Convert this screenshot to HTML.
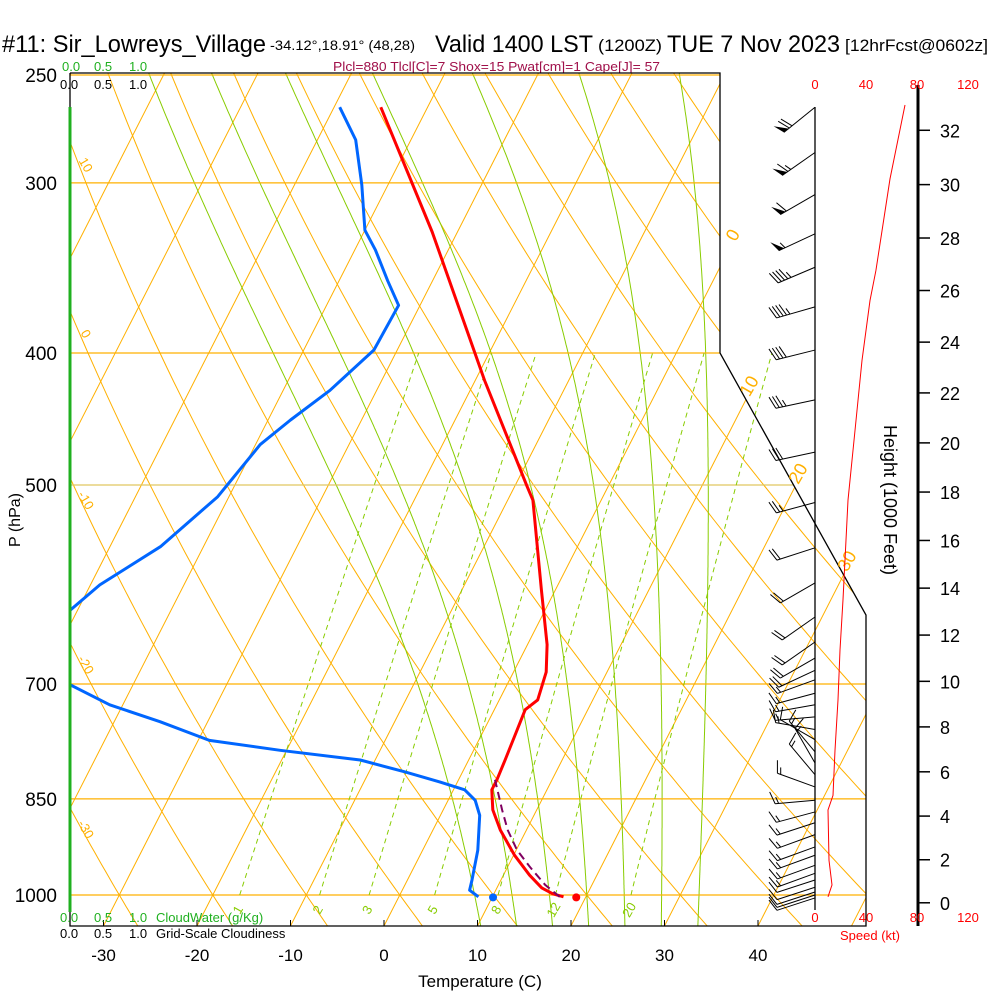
<!DOCTYPE html>
<html><head><meta charset="utf-8"><style>
html,body{margin:0;padding:0;background:#fff;}
svg{display:block;font-family:"Liberation Sans",Arial,sans-serif;}
</style></head><body>
<svg id="chart" width="1000" height="1000" viewBox="0 0 1000 1000" xmlns="http://www.w3.org/2000/svg">
<defs><clipPath id="plotClip"><path d="M70,73 L720,73 L720,353 L866,615 L866,926 L70,926 Z"/></clipPath>
<clipPath id="mixClip"><rect x="70" y="353" width="800" height="543"/></clipPath></defs>
<rect x="0" y="0" width="1000" height="1000" fill="#fff"/>
<g>
<text x="2" y="52" font-size="24" textLength="264" lengthAdjust="spacingAndGlyphs">#11: Sir_Lowreys_Village</text>
<text x="270" y="50" font-size="14" textLength="145" lengthAdjust="spacingAndGlyphs">-34.12°,18.91° (48,28)</text>
<text x="435" y="52" font-size="24" textLength="158" lengthAdjust="spacingAndGlyphs">Valid 1400 LST</text>
<text x="598" y="51" font-size="17" textLength="64" lengthAdjust="spacingAndGlyphs">(1200Z)</text>
<text x="667" y="52" font-size="24" textLength="173" lengthAdjust="spacingAndGlyphs">TUE 7 Nov 2023</text>
<text x="845" y="51" font-size="17" textLength="143" lengthAdjust="spacingAndGlyphs">[12hrFcst@0602z]</text>
</g>
<text x="333" y="71" font-size="13" fill="#a0104a" textLength="327" lengthAdjust="spacingAndGlyphs">Plcl=880 Tlcl[C]=7 Shox=15 Pwat[cm]=1 Cape[J]= 57</text>
<g id="grid" clip-path="url(#plotClip)"></g>
<g id="mix" clip-path="url(#mixClip)"></g>
<g id="profiles" clip-path="url(#plotClip)"></g>
<g id="frame" fill="none" stroke="#000" stroke-width="1.3">
<path d="M70,73 L720,73 L720,353 L866,615 L866,926 L70,926 L70,73"/>
<line x1="815" y1="107" x2="815" y2="910"/>
<line x1="918" y1="85" x2="918" y2="926" stroke-width="3"/>
</g>
<line x1="70" y1="107" x2="70" y2="912" stroke="#20b020" stroke-width="3"/>
<g id="labels"></g>
<g id="winds"></g>
<text transform="translate(20,520) rotate(-90)" text-anchor="middle" font-size="16">P (hPa)</text>
<text x="480" y="987" text-anchor="middle" font-size="17">Temperature (C)</text>
<text transform="translate(884,500) rotate(90)" text-anchor="middle" font-size="18">Height (1000 Feet)</text>
<text x="870" y="940" text-anchor="middle" font-size="13" fill="#f00">Speed (kt)</text>
<g font-size="13">
<text x="62" y="71" fill="#20b020">0.0</text><text x="94" y="71" fill="#20b020">0.5</text><text x="129" y="71" fill="#20b020">1.0</text>
<text x="60" y="89">0.0</text><text x="94" y="89">0.5</text><text x="129" y="89">1.0</text>
<text x="60" y="922" fill="#20b020">0.0</text><text x="94" y="922" fill="#20b020">0.5</text><text x="129" y="922" fill="#20b020">1.0</text><text x="156" y="922" fill="#20b020">CloudWater (g/Kg)</text>
<text x="60" y="938">0.0</text><text x="94" y="938">0.5</text><text x="129" y="938">1.0</text><text x="156" y="938">Grid-Scale Cloudiness</text>
</g>
<script>
// ---- data ----
const tempP=[264,326,419,501,513,597,655,686,719,731,763,796,823,837,866,896,935,967,988,998,1003];
const tempT=[-45.0,-32.7,-19.0,-8.7,-7.3,-1.5,2.1,3.5,4.1,3.3,3.6,3.9,4.1,4.1,5.3,7.2,10.1,12.8,14.8,16.3,17.6];
const dewP=[264,279,301,325,336,354,369,398,426,448,467,510,555,592,618,650,690,701,725,746,770,783,796,812,826,837,852,874,927,975,992,1003];
const dewT=[-49.4,-45.9,-42.8,-40.0,-37.8,-34.8,-32.3,-32.5,-35.0,-37.6,-39.5,-41.2,-44.6,-49.0,-50.8,-56,-56,-46.7,-41.4,-35.1,-28.8,-20.7,-11.6,-6.2,-1.9,1.2,2.9,4.2,5.9,6.9,7.2,8.5];
const parcelP=[1003,983,955,927,896,866,837,823];
const parcelT=[17.2,15.0,12.5,10.1,8.0,6.3,4.7,3.9];
const sfcT=19.0, sfcTd=10.1, sfcP=1004;
const windP=[264,285,306,327,346,370,398,433,473,515,556,590,625,652,670,684,695,711,725,740,756,769,785,800,816,833,852,869,885,903,922,935,951,964,975,987,995,1000,1005];
const windDir=[231,235,240,245,247,254,256,258,258,255,252,240,235,235,240,245,250,255,260,265,280,300,320,330,320,290,265,255,252,250,250,250,250,250,252,252,252,252,252];
const windSpd=[70,65,60,55,45,45,40,35,30,25,20,20,20,20,20,20,15,15,15,15,15,10,15,15,15,15,15,15,15,15,15,15,15,15,10,10,10,10,10];
const spdP=[1003,983,943,866,845,783,719,661,607,513,456,405,366,348,298,263];
const spdVal=[10.2,13.3,11,10.2,14.1,15.7,18,19.6,22,25.9,31.4,36.9,43.1,47.8,58.8,70.6];
const pressLabels=[250,300,400,500,700,850,1000];
const tempTicks=[-30,-20,-10,0,10,20,30,40];
const heightTicks=[0,2,4,6,8,10,12,14,16,18,20,22,24,26,28,30,32];
const speedTicks=[0,40,80,120];
const mixRatios=[1,2,3,5,8,12,20];
const moistStarts=[8,12,16,20,24,28,32];
const isoLabels=[0,10,20,30];
const thetaLabels=[10,0,-10,-20,-30];
// ---- axes ----
const NS="http://www.w3.org/2000/svg";
function yP(p){return 895+591.5*Math.log(p/1000);}
function xT(T,p){return 384+9.35*T+(926-yP(p))*0.51;}
function pY(y){return 1000*Math.exp((y-895)/591.5);}
function xS(s){return 815+s*51/40;}
function mk(tag,attrs,parent){const e=document.createElementNS(NS,tag);for(const k in attrs)e.setAttribute(k,attrs[k]);parent.appendChild(e);return e;}
function poly(pts){return pts.map((q,i)=>(i?'L':'M')+q[0].toFixed(1)+','+q[1].toFixed(1)).join(' ');}
const grid=document.getElementById('grid'),mix=document.getElementById('mix'),prof=document.getElementById('profiles'),lab=document.getElementById('labels'),winds=document.getElementById('winds');
const ORANGE='#ffb000',GREEN='#88cc00';
const pTop=240,pBot=1060;
for(let T=-120;T<=50;T+=10){
 const e=mk('path',{d:poly([[xT(T,pBot),yP(pBot)],[xT(T,pTop),yP(pTop)]]),stroke:ORANGE,'stroke-width':1,fill:'none'},grid);
 
 
}
for(let th=-40;th<=180;th+=10){
 const pts=[];for(let p=pBot;p>=pTop;p-=10){const T=(th+273.15)*Math.pow(p/1000,0.2857)-273.15;pts.push([xT(T,p),yP(p)]);}
 const e=mk('path',{d:poly(pts),stroke:ORANGE,'stroke-width':1,fill:'none'},grid);
 
 
}
function es(T){return 6.112*Math.exp(17.67*T/(T+243.5));}
function dTdp(T,p){const Tk=T+273.15,e=es(T),rs=0.622*e/(p-e),Lv=2.5e6,Rd=287,cp=1005;return (Rd*Tk+Lv*rs)/(p*(cp+Lv*Lv*rs*0.622/(Rd*Tk*Tk)));}
moistStarts.forEach(t0=>{
 const up=[];let T=t0;for(let p=1000;p>=pTop;p-=2){up.push([xT(T,p),yP(p)]);T-=dTdp(T,p)*2;}
 const dn=[];T=t0;for(let p=1000;p<=pBot;p+=2){dn.push([xT(T,p),yP(p)]);T+=dTdp(T,p)*2;}
 const e=mk('path',{d:poly(dn.reverse().concat(up)),stroke:GREEN,'stroke-width':1,fill:'none'},grid);
 
 
});
pressLabels.forEach(p=>{
 const e=mk('line',{x1:70,x2:870,y1:yP(p),y2:yP(p),stroke:p===500?'#e0c860':ORANGE,'stroke-width':1.3},grid);
 
 
 const t=mk('text',{x:57,y:yP(p)+7,'text-anchor':'end','font-size':19},lab);t.textContent=p;
 
 
});
function tdW(w,p){const e=w*p/(622+w),l=Math.log(e/6.112);return 243.5*l/(17.67-l);}
mixRatios.forEach(w=>{
 const pts=[];for(let p=1000;p>=400;p-=10)pts.push([xT(tdW(w,p),p),yP(p)]);
 const e=mk('path',{d:poly(pts),stroke:GREEN,'stroke-width':1,fill:'none','stroke-dasharray':'5,4'},mix);
 
 
 const x=xT(tdW(w,1000),1000);
 const t=mk('text',{x:0,y:0,'font-size':13,fill:GREEN,transform:`translate(${x+2},${912}) rotate(-60)`,'text-anchor':'middle'},lab);t.textContent=w;
 
 
});
isoLabels.forEach(T=>{
 let y=null;for(let yy=80;yy<926;yy+=0.5){const x=xT(T,pY(yy));const bx=yy<=353?720:720+(yy-353)*(146/262);if(x<=bx+18){y=yy;break;}}
 if(y===null)return;
 const x=xT(T,pY(y));
 const t=mk('text',{x:0,y:0,'font-size':18,fill:ORANGE,transform:`translate(${x},${y+6}) rotate(-60)`,'text-anchor':'middle'},lab);t.textContent=T;
 
 
});
thetaLabels.forEach(th=>{
 let y=null;for(let yy=80;yy<926;yy+=0.5){const p=pY(yy);const T=(th+273.15)*Math.pow(p/1000,0.2857)-273.15;if(xT(T,p)>=72){y=yy;break;}}
 const t=mk('text',{x:0,y:0,'font-size':13,fill:ORANGE,transform:`translate(82,${y+20}) rotate(60)`,'text-anchor':'middle'},lab);t.textContent=th;
 
 
});
tempTicks.forEach(T=>{
 const x=384+9.35*T;
 const l=mk('line',{x1:x,x2:x,y1:926,y2:920,stroke:'#000'},lab);
 
 
 const t=mk('text',{x:x,y:961,'text-anchor':'middle','font-size':17},lab);t.textContent=T;
 
 
});
function pH(kft){const z=kft*304.8;return 1013.25*Math.pow(1-z/44330.8,5.25588);}
heightTicks.forEach(h=>{
 const y=yP(pH(h));
 const l=mk('line',{x1:918,x2:930,y1:y,y2:y,stroke:'#000','stroke-width':1.5},lab);
 
 
 const t=mk('text',{x:940,y:y+7,'font-size':18},lab);t.textContent=h;
 
 
});
speedTicks.forEach(s=>{
 [89,922].forEach(yy=>{
  const t=mk('text',{x:xS(s),y:yy,'text-anchor':'middle','font-size':13,fill:'#f00'},lab);t.textContent=s;
  
  
 });
});
const tl=mk('path',{d:poly(tempP.map((p,i)=>[xT(tempT[i],p),yP(p)])),stroke:'#f00','stroke-width':3,fill:'none','stroke-linejoin':'round'},prof);


const dl=mk('path',{d:poly(dewP.map((p,i)=>[xT(dewT[i],p),yP(p)])),stroke:'#0066ff','stroke-width':3,fill:'none','stroke-linejoin':'round'},prof);


const pl=mk('path',{d:poly(parcelP.map((p,i)=>[xT(parcelT[i],p),yP(p)])),stroke:'#800060','stroke-width':2,fill:'none','stroke-dasharray':'8,5'},prof);


const c1=mk('circle',{cx:xT(sfcT,sfcP),cy:yP(sfcP),r:4,fill:'#f00'},prof);


const c2=mk('circle',{cx:xT(sfcTd,sfcP),cy:yP(sfcP),r:4,fill:'#0066ff'},prof);


const sl=mk('path',{d:poly(spdP.map((p,i)=>[xS(spdVal[i]),yP(p)])),stroke:'#f00','stroke-width':1,fill:'none'},lab);


windP.forEach((p,i)=>{
 const x0=815,y0=yP(p),L=40,a=windDir[i]*Math.PI/180;
 const ux=Math.sin(a),uy=-Math.cos(a);
 const tx=x0+ux*L,ty=y0+uy*L;
 const g=mk('g',{},winds);
 
 
 mk('line',{x1:x0,y1:y0,x2:tx,y2:ty,stroke:'#000','stroke-width':1},g);
 const r=70*Math.PI/180,bx=ux*Math.cos(r)-uy*Math.sin(r),by=ux*Math.sin(r)+uy*Math.cos(r);
 let s=Math.round(windSpd[i]/5)*5,d=0;
 while(s>=50){const ax=tx-ux*d,ay=ty-uy*d;const cx=tx-ux*(d+6),cy=ty-uy*(d+6);
  mk('path',{d:`M${ax},${ay} L${ax+bx*12},${ay+by*12} L${cx},${cy} Z`,fill:'#000'},g);d+=7;s-=50;}
 while(s>=10){const ax=tx-ux*d,ay=ty-uy*d;mk('line',{x1:ax,y1:ay,x2:ax+bx*13,y2:ay+by*13,stroke:'#000','stroke-width':1},g);d+=3.5;s-=10;}
 if(s>=5){if(d===0)d=3.5;const ax=tx-ux*d,ay=ty-uy*d;mk('line',{x1:ax,y1:ay,x2:ax+bx*7,y2:ay+by*7,stroke:'#000','stroke-width':1},g);}
});
</script>
</svg>
</body></html>
